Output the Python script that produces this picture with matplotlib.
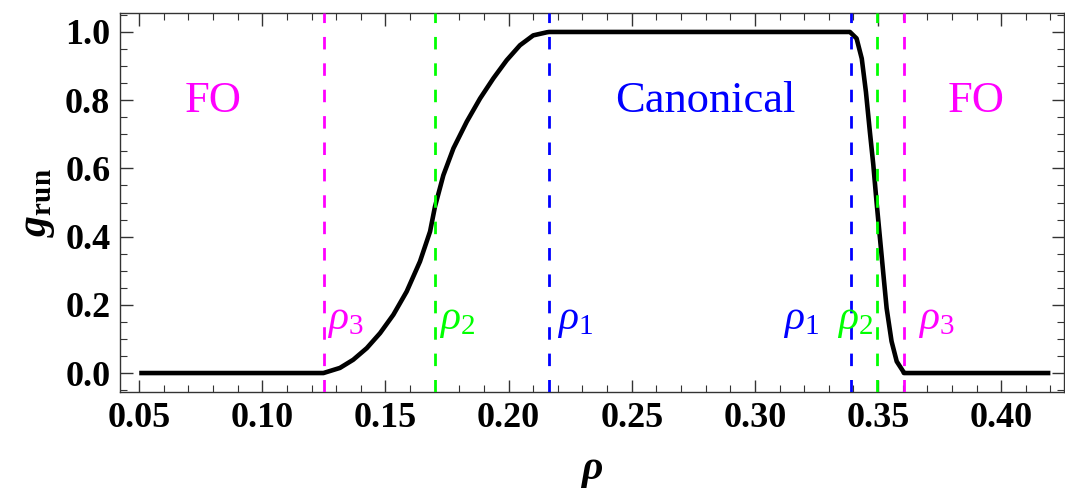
import numpy as np
import matplotlib
matplotlib.use('Agg')
import matplotlib.pyplot as plt
from matplotlib.ticker import MultipleLocator, FormatStrFormatter

plt.rcParams['font.family'] = ['Liberation Serif', 'DejaVu Serif']
plt.rcParams['mathtext.fontset'] = 'custom'
plt.rcParams['mathtext.rm'] = 'Liberation Serif'
plt.rcParams['mathtext.it'] = 'Liberation Serif:italic'
plt.rcParams['mathtext.bf'] = 'Liberation Serif:bold'
plt.rcParams['mathtext.bfit'] = 'Liberation Serif:bold:italic'

# curve
rho = [0.05, 0.1248, 0.1315, 0.1369, 0.1424, 0.1478, 0.1532, 0.1586, 0.1640,
       0.1681, 0.1701, 0.1735, 0.1776, 0.1830, 0.1884, 0.1938, 0.1992, 0.2046,
       0.2100, 0.2155, 0.2164,
       0.3386, 0.3413, 0.3434, 0.3451, 0.3467, 0.3481, 0.3494, 0.3508, 0.3522,
       0.3535, 0.3555, 0.3576, 0.3602, 0.3605, 0.42]
g_run = [0.0, 0.0, 0.015, 0.039, 0.073, 0.117, 0.171, 0.239, 0.327,
         0.415, 0.488, 0.580, 0.659, 0.737, 0.805, 0.864, 0.917, 0.961,
         0.990, 0.999, 1.0,
         1.0, 0.981, 0.922, 0.824, 0.707, 0.610, 0.502, 0.395, 0.288,
         0.190, 0.093, 0.034, 0.005, 0.0, 0.0]

# boundaries
bounds = [0.125, 0.170, 0.2164, 0.339, 0.3495, 0.3605]
bound_names = [r'$\rho_3$', r'$\rho_2$', r'$\rho_1$', r'$\rho_1$', r'$\rho_2$', r'$\rho_3$']
bound_colors = ['#ff00ff', '#00ff00', '#0000ff', '#0000ff', '#00ff00', '#ff00ff']
label_x = [0.1263, 0.1717, 0.2197, 0.3114, 0.3333, 0.3662]

regions = ['FO', 'Canonical', 'FO']
region_x = [0.080, 0.2797, 0.390]
region_colors = ['#ff00ff', '#0000ff', '#ff00ff']

fig = plt.figure(figsize=(10.65, 5), dpi=100)
ax = fig.add_axes([0.1127, 0.216, 0.999 - 0.1127, 0.974 - 0.216])

ax.plot(rho, g_run, color='black', lw=3.3, zorder=2,
        solid_joinstyle='round', solid_capstyle='butt')
for b, c in zip(bounds, bound_colors):
    ax.axvline(b, color=c, lw=2.0, ls=(0, (4.5, 5)), zorder=3)

for x, name, c in zip(label_x, bound_names, bound_colors):
    ax.text(x, 0.13, name, color=c, fontsize=30, va='baseline', ha='left')
for x, name, c in zip(region_x, regions, region_colors):
    ax.text(x, 0.765, name, color=c, fontsize=32, va='baseline', ha='center')

ax.set_xlim(0.0422, 0.4255)
ax.set_ylim(-0.0556, 1.0556)
ax.xaxis.set_major_locator(MultipleLocator(0.05))
ax.xaxis.set_minor_locator(MultipleLocator(0.01))
ax.yaxis.set_major_locator(MultipleLocator(0.2))
ax.yaxis.set_minor_locator(MultipleLocator(0.05))
ax.xaxis.set_major_formatter(FormatStrFormatter('%.2f'))
ax.yaxis.set_major_formatter(FormatStrFormatter('%.1f'))
ax.tick_params(which='both', direction='in', top=True, right=True, color='#333333')
ax.tick_params(which='major', length=9, width=1.0, labelsize=26, pad=7)
ax.tick_params(which='minor', length=5, width=0.8)
for lab in ax.get_xticklabels() + ax.get_yticklabels():
    lab.set_fontweight('bold')
for s in ax.spines.values():
    s.set_color('#333333')
    s.set_linewidth(1.0)

ax.set_xlabel(r'$\mathbfit{\rho}$', fontsize=30, labelpad=12)
ax.set_ylabel(r'$\mathbfit{g}_{\mathbf{run}}$', fontsize=30, labelpad=6)

fig.savefig('out.png', dpi=100)
